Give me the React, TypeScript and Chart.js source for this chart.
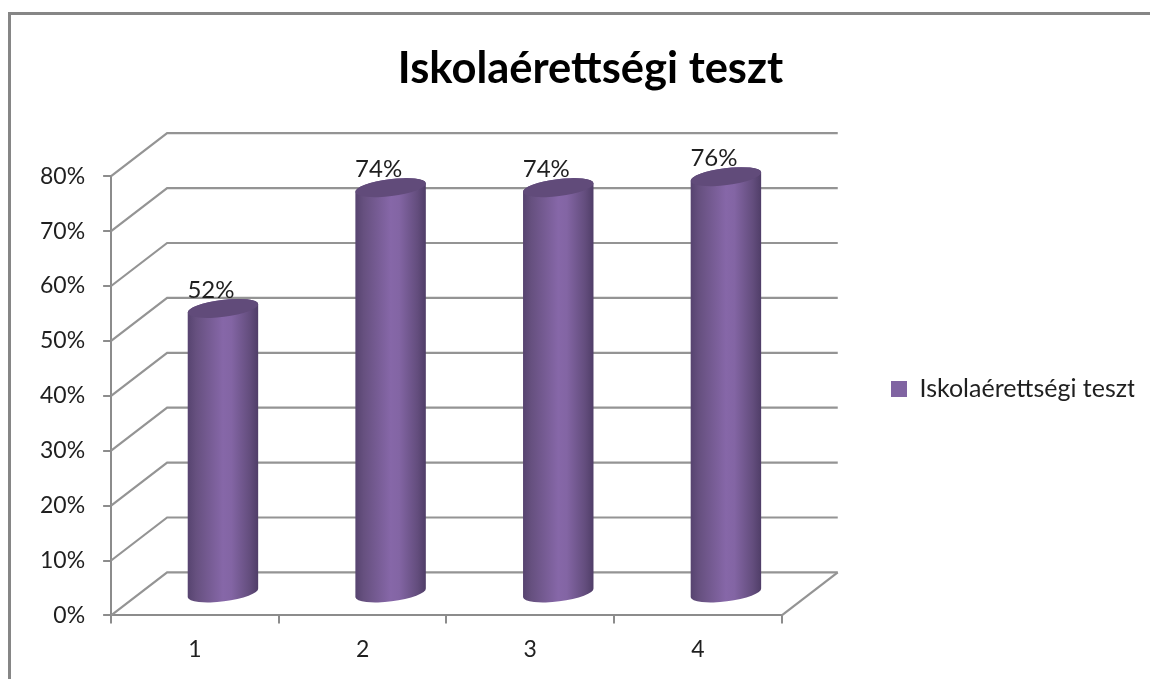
import React, { useEffect, useRef } from "react";
import { Chart, registerables } from "chart.js";

Chart.register(...registerables);

const categories = ["1", "2", "3", "4"];
const seriesName = "Iskolaérettségi teszt";
const values = [52, 74, 74, 76];
const chartTitle = "Iskolaérettségi teszt";

const FONT = "Lato, Carlito, Calibri, sans-serif";
const GRID = "#949494";
const AXIS = "#8c8c8c";
const TEXT = "#1f1f1f";
const DEPTH_X = 56;
const DEPTH_Y = 43;

const scene = {
  id: "scene3d",
  beforeDraw(chart: any) {
    const { ctx, width, height } = chart;
    ctx.save();
    ctx.fillStyle = "#ffffff";
    ctx.fillRect(0, 0, width, height);
    ctx.strokeStyle = "#868686";
    ctx.lineWidth = 3;
    ctx.beginPath();
    ctx.moveTo(9.5, height + 4);
    ctx.lineTo(9.5, 13.5);
    ctx.lineTo(width + 4, 13.5);
    ctx.stroke();
    ctx.restore();
  },
  afterLayout(chart: any) {
    const legend = chart.legend;
    const w = legend.right - legend.left;
    legend.left = 881;
    legend.right = 881 + w;
    legend.top += 30;
    legend.bottom += 30;
    const t = chart.titleBlock;
    t.left += 62;
    t.right += 62;
  },
  beforeDatasetsDraw(chart: any) {
    const { ctx, chartArea } = chart;
    const y = chart.scales.y;
    ctx.save();
    ctx.strokeStyle = GRID;
    ctx.lineWidth = 2.2;
    ctx.lineJoin = "miter";
    y.ticks.forEach((t: any) => {
      const py = y.getPixelForValue(t.value);
      ctx.beginPath();
      ctx.moveTo(chartArea.left, py);
      ctx.lineTo(chartArea.left + DEPTH_X, py - DEPTH_Y);
      ctx.lineTo(chartArea.right + DEPTH_X, py - DEPTH_Y);
      ctx.stroke();
    });
    const base = y.getPixelForValue(0);
    ctx.beginPath();
    ctx.moveTo(chartArea.right, base);
    ctx.lineTo(chartArea.right + DEPTH_X, base - DEPTH_Y);
    ctx.stroke();
    ctx.restore();

    const meta = chart.getDatasetMeta(0);
    const rot = -0.125;
    const ry = 8.5;
    meta.data.forEach((bar: any, i: number) => {
      const cx = bar.x + DEPTH_X / 2;
      const rx = 35.5;
      const topY = bar.y - DEPTH_Y / 2;
      const botY = bar.base - DEPTH_Y / 2;
      const g = ctx.createLinearGradient(cx - rx, 0, cx + rx, 0);
      g.addColorStop(0, "#56436f");
      g.addColorStop(0.12, "#66507f");
      g.addColorStop(0.5, "#8667a8");
      g.addColorStop(0.62, "#8365a4");
      g.addColorStop(0.88, "#634d7d");
      g.addColorStop(1, "#4f3d67");
      ctx.save();
      ctx.fillStyle = g;
      ctx.beginPath();
      ctx.ellipse(cx, botY, rx, ry, rot, 0, Math.PI, false);
      ctx.ellipse(cx, topY, rx, ry, rot, Math.PI, Math.PI * 2, false);
      ctx.closePath();
      ctx.fill();
      ctx.fillStyle = "#614b7a";
      ctx.beginPath();
      ctx.ellipse(cx, topY, rx, ry, rot, 0, Math.PI * 2);
      ctx.fill();
      ctx.fillStyle = TEXT;
      ctx.font = `24px ${FONT}`;
      ctx.textAlign = "center";
      ctx.textBaseline = "middle";
      ctx.fillText(`${values[i]}%`, cx - 12, topY - 18);
      ctx.restore();
    });
    return false;
  },
};

export default function App() {
  const ref = useRef<HTMLCanvasElement>(null);
  useEffect(() => {
    const chart = new Chart(ref.current!, {
      type: "bar",
      data: {
        labels: categories,
        datasets: [{ label: seriesName, data: values, backgroundColor: "#8064a2", borderWidth: 0 }],
      },
      plugins: [scene],
      options: {
        animation: false,
        responsive: false,
        layout: { padding: { left: 22, right: 115, top: 43, bottom: 4 } },
        scales: {
          x: {
            grid: { drawOnChartArea: false, drawTicks: true, tickLength: 8, color: AXIS, lineWidth: 2 },
            border: { color: AXIS, width: 2 },
            ticks: { color: TEXT, font: { family: FONT, size: 23 }, padding: 12, maxRotation: 0 },
          },
          y: {
            min: 0,
            max: 80,
            grid: { drawOnChartArea: false, drawTicks: true, tickLength: 8, color: AXIS, lineWidth: 2 },
            border: { color: AXIS, width: 2 },
            ticks: {
              stepSize: 10,
              color: TEXT,
              font: { family: FONT, size: 23 },
              padding: 18,
              callback: (v: any) => `${v}%`,
            },
          },
        },
        plugins: {
          tooltip: { enabled: false },
          title: {
            display: true,
            text: chartTitle,
            color: "#000000",
            font: { family: FONT, size: 43.5, weight: "bold" },
            padding: { top: 0, bottom: 81 },
          },
          legend: {
            display: true,
            position: "right",
            labels: {
              color: TEXT,
              boxWidth: 16,
              boxHeight: 16,
              font: { family: FONT, size: 25 },
              padding: 10,
            },
          },
        },
      },
    });
    return () => chart.destroy();
  }, []);
  return (
    <canvas
      ref={ref}
      width={1150}
      height={679}
      style={{ position: "absolute", left: 0, top: 0, width: 1150, height: 679, filter: "blur(0.4px)" }}
    />
  );
}
